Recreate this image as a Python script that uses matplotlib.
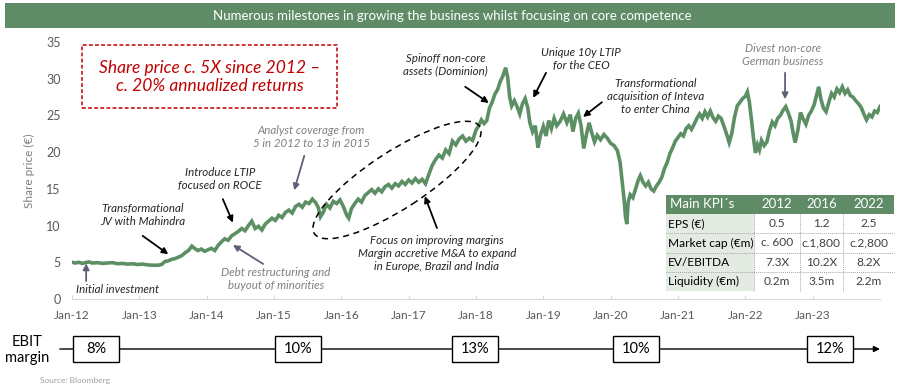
import matplotlib
matplotlib.use('Agg')
import matplotlib.pyplot as plt
import matplotlib.patches as patches
import numpy as np

plt.rcParams['font.family'] = ['Lato', 'DejaVu Sans']

# share price (fractional year, EUR)
years = [2012.00, 2012.05, 2012.10, 2012.15, 2012.20, 2012.25, 2012.30, 2012.38, 2012.45, 2012.52,
         2012.60, 2012.68, 2012.75, 2012.82, 2012.90, 2012.97, 2013.05, 2013.12, 2013.20, 2013.28,
         2013.33, 2013.38, 2013.43, 2013.48, 2013.53, 2013.58, 2013.63, 2013.68, 2013.73, 2013.78,
         2013.82, 2013.87, 2013.92, 2013.97, 2014.02, 2014.07, 2014.12, 2014.17, 2014.22, 2014.27,
         2014.32, 2014.37, 2014.42, 2014.47, 2014.52, 2014.57, 2014.62, 2014.67, 2014.72, 2014.77,
         2014.82, 2014.87, 2014.92, 2014.97, 2015.02, 2015.07, 2015.12, 2015.17, 2015.22, 2015.27,
         2015.32, 2015.37, 2015.42, 2015.47, 2015.52, 2015.57, 2015.62, 2015.66, 2015.69, 2015.73,
         2015.78, 2015.83, 2015.88, 2015.93, 2015.98, 2016.03, 2016.08, 2016.11, 2016.15, 2016.20,
         2016.25, 2016.30, 2016.35, 2016.40, 2016.45, 2016.50, 2016.55, 2016.60, 2016.65, 2016.70,
         2016.75, 2016.80, 2016.85, 2016.90, 2016.95, 2017.00, 2017.05, 2017.10, 2017.15, 2017.20,
         2017.25, 2017.30, 2017.35, 2017.40, 2017.45, 2017.50, 2017.55, 2017.60, 2017.65, 2017.70,
         2017.75, 2017.80, 2017.85, 2017.90, 2017.95, 2018.00, 2018.04, 2018.08, 2018.12, 2018.16,
         2018.20, 2018.24, 2018.28, 2018.32, 2018.36, 2018.40, 2018.44, 2018.47, 2018.50, 2018.53,
         2018.57, 2018.61, 2018.65, 2018.69, 2018.73, 2018.77, 2018.80, 2018.84, 2018.88, 2018.92,
         2018.96, 2019.00, 2019.04, 2019.08, 2019.12, 2019.16, 2019.20, 2019.25, 2019.30, 2019.35,
         2019.40, 2019.44, 2019.48, 2019.52, 2019.56, 2019.60, 2019.64, 2019.68, 2019.72, 2019.76,
         2019.80, 2019.85, 2019.90, 2019.95, 2020.00, 2020.05, 2020.10, 2020.14, 2020.17, 2020.20,
         2020.22, 2020.24, 2020.26, 2020.29, 2020.33, 2020.37, 2020.41, 2020.44, 2020.48, 2020.52,
         2020.56, 2020.60, 2020.64, 2020.68, 2020.72, 2020.76, 2020.80, 2020.84, 2020.88, 2020.92,
         2020.96, 2021.00, 2021.04, 2021.08, 2021.12, 2021.16, 2021.20, 2021.24, 2021.28, 2021.32,
         2021.36, 2021.40, 2021.44, 2021.48, 2021.52, 2021.56, 2021.60, 2021.64, 2021.68, 2021.72,
         2021.76, 2021.80, 2021.84, 2021.88, 2021.92, 2021.96, 2022.00, 2022.03, 2022.06, 2022.09,
         2022.12, 2022.15, 2022.18, 2022.21, 2022.24, 2022.28, 2022.32, 2022.36, 2022.40, 2022.44,
         2022.48, 2022.52, 2022.56, 2022.60, 2022.64, 2022.68, 2022.71, 2022.74, 2022.78, 2022.82,
         2022.86, 2022.90, 2022.94, 2022.98, 2023.02, 2023.06, 2023.09, 2023.12, 2023.16, 2023.20,
         2023.24, 2023.28, 2023.32, 2023.36, 2023.40, 2023.44, 2023.48, 2023.52, 2023.56, 2023.60,
         2023.64, 2023.68, 2023.72, 2023.76, 2023.80, 2023.84, 2023.88, 2023.92, 2023.96, 2024.00]
price = [5.0, 4.9, 5.0, 4.85, 4.95, 5.05, 4.9, 4.95, 4.85, 4.9,
         4.95, 4.8, 4.85, 4.75, 4.8, 4.7, 4.75, 4.65, 4.6, 4.6,
         4.7, 5.1, 5.2, 5.4, 5.5, 5.7, 5.9, 6.3, 6.6, 7.2,
         6.9, 6.6, 6.8, 6.5, 6.7, 6.9, 6.6, 7.3, 7.8, 8.2,
         8.0, 8.6, 8.9, 9.2, 9.6, 9.3, 10.0, 10.6, 9.6, 9.9,
         9.4, 10.2, 10.6, 11.0, 10.7, 11.4, 11.1, 11.8, 12.1, 11.7,
         12.6, 12.9, 12.5, 13.2, 13.0, 13.6, 13.1, 12.4, 11.2, 11.8,
         12.9, 12.4, 13.3, 13.0, 13.5, 12.6, 11.4, 11.0, 12.3, 13.0,
         13.6, 13.2, 14.1, 14.5, 14.9, 14.4, 15.0, 14.6, 15.3, 15.6,
         15.1, 15.7, 15.4, 16.0, 15.6, 16.2, 15.8, 16.4, 15.9, 16.3,
         15.7, 17.0, 18.2, 19.0, 19.6, 19.2, 20.3, 19.8, 21.5, 21.0,
         21.8, 22.2, 21.5, 21.9, 21.6, 23.0, 23.6, 24.4, 23.9, 24.3,
         26.0, 26.8, 27.9, 28.5, 29.6, 30.4, 31.5, 30.2, 27.5, 26.3,
         27.0, 26.2, 25.2, 26.6, 27.3, 26.0, 24.0, 22.8, 23.6, 20.6,
         22.4, 23.5, 22.2, 24.3, 23.2, 24.6, 23.6, 24.2, 25.2, 24.0,
         25.1, 22.8, 24.6, 25.3, 23.6, 20.5, 22.4, 24.0, 22.6, 21.4,
         22.3, 21.7, 22.4, 21.9, 21.2, 20.9, 20.2, 18.6, 16.0, 13.5,
         11.2, 10.2, 13.2, 14.2, 13.8, 15.0, 16.2, 16.8, 15.9, 15.4,
         15.9, 15.0, 14.7, 15.4, 15.9, 16.6, 17.8, 18.6, 19.8, 20.6,
         21.5, 22.0, 22.5, 22.2, 23.2, 23.6, 23.1, 23.8, 24.6, 25.2,
         24.6, 25.5, 24.8, 25.6, 24.7, 24.2, 24.9, 24.6, 23.6, 22.5,
         21.3, 22.6, 24.8, 26.3, 26.8, 27.3, 27.6, 28.2, 26.8, 24.5,
         22.0, 19.9, 21.0, 20.3, 21.6, 20.9, 21.4, 23.0, 24.1, 23.6,
         24.6, 25.0, 25.7, 26.2, 25.3, 24.2, 22.6, 21.3, 23.0, 25.4,
         24.5, 23.8, 25.0, 25.6, 26.4, 27.8, 28.9, 27.3, 26.0, 25.5,
         26.8, 28.0, 27.5, 28.6, 28.1, 28.9, 28.0, 28.5, 27.7, 27.5,
         27.0, 26.6, 26.1, 25.2, 24.4, 25.1, 24.8, 25.6, 25.4, 26.2]

tick_years = list(range(2012, 2024))
tick_labels = ['Jan-%02d' % (y % 100) for y in tick_years]

ebit_pos = [2012.36, 2015.36, 2017.99, 2020.38, 2023.26]
ebit_vals = ['8%', '10%', '13%', '10%', '12%']

kpi_cols = ['Main KPI´s', '2012', '2016', '2022']
kpi_rows = ['EPS (€)', 'Market cap (€m)', 'EV/EBITDA', 'Liquidity (€m)']
kpi_2012 = ['0.5', 'c. 600', '7.3X', '0.2m']
kpi_2016 = ['1.2', 'c.1,800', '10.2X', '3.5m']
kpi_2022 = ['2.5', 'c.2,800', '8.2X', '2.2m']

GREEN = '#5f8c66'
LINE = '#5d8f64'
DARK = '#262626'
GREY = '#808080'
ARROW_GREY = '#5b6275'

W, H = 900, 384


def fx(x):
    return x / W


def fy(y):
    return 1 - y / H


fig = plt.figure(figsize=(9, 3.84), dpi=100)

# header bar
fig.add_artist(patches.Rectangle((fx(5), fy(28)), fx(890), 25 / H, transform=fig.transFigure,
                                 facecolor=GREEN, edgecolor='none'))
fig.text(fx(452), fy(15.5), 'Numerous milestones in growing the business whilst focusing on core competence',
         color='white', fontsize=9.5, ha='center', va='center')

# main price chart
ax = fig.add_axes([fx(72), fy(299), fx(808), 257 / H])
ax.plot(years, price, color=LINE, lw=2.6, solid_joinstyle='miter')
ax.set_xlim(2012, 2024)
ax.set_ylim(0, 35)
ax.set_yticks(range(0, 36, 5))
ax.set_xticks(tick_years)
ax.set_xticklabels(tick_labels)
for s in ['top', 'right', 'left']:
    ax.spines[s].set_visible(False)
ax.spines['bottom'].set_color('#d9d9d9')
ax.tick_params(axis='y', length=0, labelsize=9, labelcolor='#595959', pad=8)
ax.tick_params(axis='x', direction='in', length=3, color='#d9d9d9', labelsize=8.5,
               labelcolor='#595959', pad=8)
ax.set_ylabel('Share price (€)', fontsize=8.5, color='#7f7f7f', labelpad=8)
ax.patch.set_alpha(0)

# annotations: (text, text pos, arrow tail, arrow head, text colour, arrow colour)
notes = [
    ('Initial investment', (2012.68, 1.23), (2012.21, 2.45), (2012.21, 4.85), DARK, ARROW_GREY),
    ('Transformational\nJV with Mahindra', (2013.05, 11.4), (2013.05, 8.6), (2013.43, 6.1), DARK, 'black'),
    ('Introduce LTIP\nfocused on ROCE', (2014.2, 16.3), (2014.24, 13.6), (2014.39, 10.4), DARK, 'black'),
    ('Analyst coverage from\n5 in 2012 to 13 in 2015', (2015.55, 22.1), (2015.45, 19.5), (2015.3, 14.8), GREY, ARROW_GREY),
    ('Debt restructuring and\nbuyout of minorities', (2015.03, 2.72), (2014.84, 4.77), (2014.39, 7.35), GREY, ARROW_GREY),
    ('Focus on improving margins\nMargin accretive M&A to expand\nin Europe, Brazil and India', (2017.42, 6.2),
     (2017.42, 9.67), (2017.24, 14.0), DARK, 'black'),
    ('Spinoff non-core\nassets (Dominion)', (2017.55, 31.9), (2017.84, 28.9), (2018.19, 26.7), DARK, 'black'),
    ('Unique 10y LTIP\nfor the CEO', (2019.56, 32.7), (2019.04, 30.8), (2018.85, 27.4), DARK, 'black'),
    ('Transformational\nacquisition of Inteva\nto enter China', (2020.67, 27.6), (2019.87, 26.8), (2019.59, 24.8),
     DARK, 'black'),
    ('Divest non-core\nGerman business', (2022.56, 33.2), (2022.59, 30.8), (2022.59, 27.2), GREY, ARROW_GREY),
]
for txt, tpos, tail, head, tc, ac in notes:
    ax.text(tpos[0], tpos[1], txt, ha='center', va='center', style='italic', fontsize=8.3,
            color=tc, linespacing=1.2)
    ax.annotate('', xy=head, xytext=tail,
                arrowprops=dict(arrowstyle='-|>', color=ac, lw=1.3, mutation_scale=9,
                                shrinkA=0, shrinkB=0))

# dashed ellipse around the 2016-2017 run
fig.add_artist(patches.Ellipse((3.97, (H - 180) / 100), 1.97, 0.57, angle=33,
                               transform=fig.dpi_scale_trans, fill=False, ls=(0, (4, 3)),
                               lw=1.1, edgecolor='black'))

# red headline box
fig.add_artist(patches.Rectangle((fx(82), fy(108)), fx(255), 63 / H, transform=fig.transFigure,
                                 fill=False, edgecolor='#c00000', ls=(0, (2.5, 1.5)), lw=1.1))
fig.text(fx(210), fy(77), 'Share price c. 5X since 2012 –\nc. 20% annualized returns',
         color='#c00000', style='italic', fontsize=12.5, ha='center', va='center', linespacing=1.15)

# KPI table
col_x = [666, 754, 800, 843, 894]
row_y = [195, 214, 233, 253, 272, 291]
fig.add_artist(patches.Rectangle((fx(666), fy(214)), fx(228), 19 / H, transform=fig.transFigure,
                                 facecolor=GREEN, edgecolor='none'))
fig.add_artist(patches.Rectangle((fx(666), fy(291)), fx(88), 77 / H, transform=fig.transFigure,
                                 facecolor='#e3ebe3', edgecolor='none'))
fig.add_artist(patches.Rectangle((fx(754), fy(291)), fx(140), 77 / H, transform=fig.transFigure,
                                 facecolor='white', edgecolor='none'))
for y in row_y[2:-1]:
    fig.add_artist(plt.Line2D([fx(666), fx(894)], [fy(y), fy(y)], transform=fig.transFigure,
                              color='#a6a6a6', lw=0.7, ls=(0, (1, 1))))
for x in col_x[1:-1]:
    fig.add_artist(plt.Line2D([fx(x), fx(x)], [fy(214), fy(291)], transform=fig.transFigure,
                              color='#a6a6a6', lw=0.7, ls=(0, (1, 1))))
fig.text(fx(670), fy(204.5), kpi_cols[0], color='white', fontsize=9.5, ha='left', va='center')
for j, c in enumerate(kpi_cols[1:]):
    cx = (col_x[j + 1] + col_x[j + 2]) / 2
    fig.text(fx(cx), fy(204.5), c, color='white', fontsize=9.5, ha='center', va='center')
for i, lab in enumerate(kpi_rows):
    cy = (row_y[i + 1] + row_y[i + 2]) / 2
    fig.text(fx(668), fy(cy), lab, color='black', fontsize=8.6, ha='left', va='center')
    for j, vals in enumerate([kpi_2012, kpi_2016, kpi_2022]):
        cx = (col_x[j + 1] + col_x[j + 2]) / 2
        fig.text(fx(cx), fy(cy), vals[i], color='#404040', fontsize=8.6, ha='center', va='center')

# EBIT margin timeline
ax2 = fig.add_axes([fx(72), fy(366), fx(808), 34 / H])
ax2.set_xlim(2012, 2024)
ax2.set_ylim(0, 1)
ax2.axis('off')
ax2.annotate('', xy=(2024.0, 0.5), xytext=(2011.82, 0.5),
             arrowprops=dict(arrowstyle='-|>', color='black', lw=1.0, mutation_scale=9,
                             shrinkA=0, shrinkB=0), annotation_clip=False)
for p, v in zip(ebit_pos, ebit_vals):
    ax2.add_patch(patches.Rectangle((p - 0.34, 0.12), 0.68, 0.76, facecolor='white',
                                    edgecolor='black', lw=1.0, zorder=3))
    ax2.text(p, 0.5, v, ha='center', va='center', fontsize=10.5, color='black', zorder=4)
fig.text(fx(27), fy(350), 'EBIT\nmargin', ha='center', va='center', fontsize=10.5,
         color='black', linespacing=1.25)

fig.text(fx(40), fy(381), 'Source: Bloomberg', fontsize=6, color='#a0a0a0', ha='left', va='center')

fig.savefig('out.png', dpi=100)
